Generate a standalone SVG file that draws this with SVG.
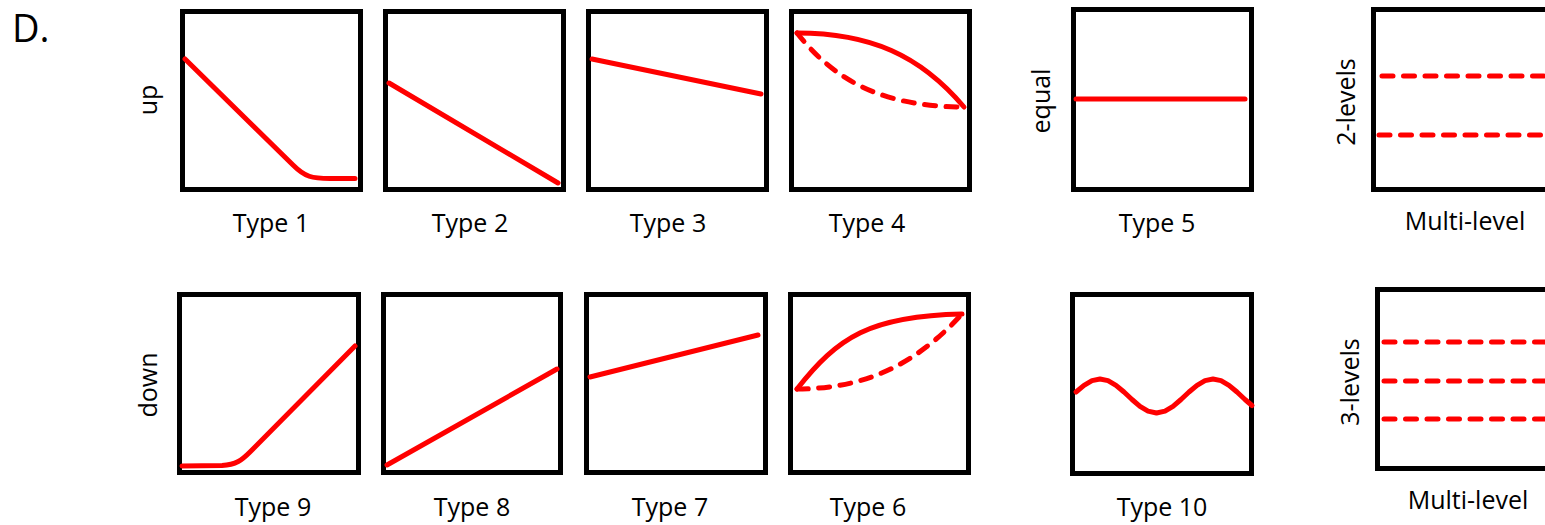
<svg xmlns="http://www.w3.org/2000/svg" width="1545" height="525" viewBox="0 0 1545 525">
<style>
.box{fill:#fff;stroke:#000;stroke-width:5}
.c{fill:none;stroke:#ff0000;stroke-width:5;stroke-linecap:round;stroke-linejoin:round}
.d{stroke-dasharray:11 10.5}
.lbl{font-family:"Open Sans","Liberation Sans",sans-serif;font-size:25px;fill:#000;text-anchor:middle}
.title{font-family:"Open Sans","Liberation Sans",sans-serif;font-size:38px;fill:#000}
</style>
<rect width="1545" height="525" fill="#fff"/>
<text class="title" x="12" y="42">D.</text>
<g id="row-labels">
<text class="lbl" transform="translate(157,100) rotate(-90)">up</text>
<text class="lbl" transform="translate(157,385) rotate(-90)">down</text>
<text class="lbl" transform="translate(1050,101) rotate(-90)">equal</text>
<text class="lbl" transform="translate(1355,102) rotate(-90)">2-levels</text>
<text class="lbl" transform="translate(1359,382) rotate(-90)">3-levels</text>
</g>
<g id="type1">
<rect class="box" x="182.5" y="11.5" width="178" height="178"/>
<path class="c" d="M185,59 L293,165 C305,177 312,178.5 330,178.5 L355,178.5"/>
<text class="lbl" x="271" y="232">Type 1</text>
</g>
<g id="type2">
<rect class="box" x="385.5" y="11.5" width="178" height="178"/>
<path class="c" d="M389,83 L558,183"/>
<text class="lbl" x="470" y="232">Type 2</text>
</g>
<g id="type3">
<rect class="box" x="588.5" y="11.5" width="178" height="178"/>
<path class="c" d="M592,59 L761,94"/>
<text class="lbl" x="668" y="232">Type 3</text>
</g>
<g id="type4">
<rect class="box" x="791.5" y="11.5" width="178" height="178"/>
<path class="c" d="M797,33 C870,33 920,55 964,107"/>
<path class="c d" d="M797,33 C828,72 872,107 964,107"/>
<text class="lbl" x="867" y="232">Type 4</text>
</g>
<g id="type5">
<rect class="box" x="1073.5" y="9.5" width="178" height="180"/>
<path class="c" d="M1076,99 L1245,99"/>
<text class="lbl" x="1157" y="232">Type 5</text>
</g>
<g id="multilevel2">
<rect class="box" x="1373.5" y="9.5" width="200" height="180"/>
<path class="c d" d="M1382,76 L1550,76"/>
<path class="c d" d="M1379,135 L1550,135"/>
<text class="lbl" x="1465" y="230">Multi-level</text>
</g>
<g id="type9">
<rect class="box" x="179.5" y="294.5" width="179" height="178"/>
<path class="c" d="M182,466 L222,465.5 C236,465 242,460 250,452 L355,346"/>
<text class="lbl" x="273" y="516">Type 9</text>
</g>
<g id="type8">
<rect class="box" x="383.5" y="294.5" width="177" height="178"/>
<path class="c" d="M387,465 L557,369"/>
<text class="lbl" x="472" y="516">Type 8</text>
</g>
<g id="type7">
<rect class="box" x="586.5" y="294.5" width="179" height="178"/>
<path class="c" d="M590,377 L758,335"/>
<text class="lbl" x="670" y="516">Type 7</text>
</g>
<g id="type6">
<rect class="box" x="790.5" y="294.5" width="178" height="178"/>
<path class="c" d="M797,389 C838,337 870,316 962,314"/>
<path class="c d" d="M797,389 C870,389 920,360 962,314"/>
<text class="lbl" x="868" y="516">Type 6</text>
</g>
<g id="type10">
<rect class="box" x="1072.5" y="294.5" width="179" height="179"/>
<polyline class="c" points="1076,392 1084,385.3 1092,380.6 1100,379 1108,380.6 1116,385.3 1124,392 1132,399.5 1140,406.3 1148,411.1 1156.5,413 1165,411.1 1173,406.3 1181,399.5 1189,392 1197,385.3 1205,380.6 1213,379 1221,380.6 1229,385.3 1237,392 1245,399.5 1252,405.5"/>
<text class="lbl" x="1162" y="516">Type 10</text>
</g>
<g id="multilevel3">
<rect class="box" x="1377.5" y="289.5" width="200" height="179"/>
<path class="c d" d="M1384,342 L1550,342"/>
<path class="c d" d="M1384,381 L1550,381"/>
<path class="c d" d="M1384,419 L1550,419"/>
<text class="lbl" x="1468" y="509">Multi-level</text>
</g>
<g id="connectors"></g>
</svg>
